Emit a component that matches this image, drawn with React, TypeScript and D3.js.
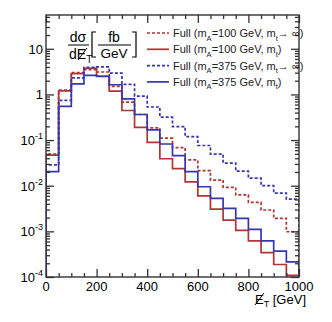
import React, { useEffect, useRef } from "react";
import * as d3 from "d3";

// bin edges of the missing-ET histograms (GeV)
const binEdges = [0, 50, 100, 150, 200, 250, 300, 350, 400, 450, 500, 550, 600, 650, 700, 750, 800, 850, 900, 950, 1000];

// dsigma/dMET [fb/GeV] per bin
const redDashed = [0.049, 1.25, 3.0, 3.5, 3.1, 1.5, 0.68, 0.363, 0.185, 0.11, 0.068, 0.0367, 0.0214, 0.0133, 0.0092, 0.0063, 0.0043, 0.00294, 0.00193, 0.00098];
const redSolid = [0.047, 1.2, 2.85, 3.75, 2.5, 1.18, 0.445, 0.19, 0.089, 0.039, 0.0238, 0.0122, 0.006, 0.00308, 0.00176, 0.00105, 0.00062, 0.000342, 0.000188, 0.000109];
const blueDashed = [0.0285, 0.74, 2.3, 3.9, 4.0, 2.94, 1.66, 0.92, 0.53, 0.317, 0.198, 0.119, 0.076, 0.049, 0.0313, 0.0208, 0.0146, 0.01, 0.0069, 0.0051];
const blueSolid = [0.0204, 0.545, 1.7, 2.62, 2.49, 1.63, 0.8, 0.363, 0.168, 0.082, 0.0457, 0.0204, 0.0095, 0.0053, 0.0032, 0.00193, 0.0011, 0.00062, 0.00037, 0.000214];

const xMajor = [0, 200, 400, 600, 800, 1000];
const xMinor = [50, 100, 150, 250, 300, 350, 450, 500, 550, 650, 700, 750, 850, 900, 950];
const yDecades = [1e-4, 1e-3, 1e-2, 1e-1, 1, 10];
const yLabels = [["10", "-4"], ["10", "-3"], ["10", "-2"], ["10", "-1"], ["1", ""], ["10", ""]];

const RED = "#b03434";
const BLUE = "#3636ae";
const FONT = "'Liberation Sans', Arial, Helvetica, sans-serif";

const series = [
  { values: redDashed, color: RED, dash: "3,2", mA: "100", inf: true },
  { values: redSolid, color: RED, dash: null, mA: "100", inf: false },
  { values: blueDashed, color: BLUE, dash: "3,2", mA: "375", inf: true },
  { values: blueSolid, color: BLUE, dash: null, mA: "375", inf: false },
];

const App = () => {
  const ref = useRef<SVGSVGElement>(null);

  useEffect(() => {
    const W = 332, H = 322;
    const L = 46, R = 299, T = 15, B = 277;
    const svg = d3.select(ref.current).attr("width", W).attr("height", H);
    svg.selectAll("*").remove();

    const x = d3.scaleLinear().domain([0, 1000]).range([L, R]);
    const y = d3.scaleLog().domain([1e-4, 55]).range([B, T]);

    svg.append("defs").append("clipPath").attr("id", "plotclip")
      .append("rect").attr("x", L).attr("y", T).attr("width", R - L).attr("height", B - T);

    // histograms
    const line = d3.line<[number, number]>()
      .x(d => x(d[0]))
      .y(d => y(d[1]))
      .curve(d3.curveStepAfter);

    const hg = svg.append("g").attr("clip-path", "url(#plotclip)");
    series.forEach(s => {
      const pts: [number, number][] = [[0, 1e-4]];
      s.values.forEach((v, i) => pts.push([binEdges[i], v]));
      pts.push([1000, s.values[s.values.length - 1]]);
      pts.push([1000, 1e-4]);
      hg.append("path")
        .attr("d", line(pts))
        .attr("fill", "none")
        .attr("stroke", s.color)
        .attr("stroke-width", 1.7)
        .attr("stroke-dasharray", s.dash);
    });

    // frame
    svg.append("rect")
      .attr("x", L).attr("y", T).attr("width", R - L).attr("height", B - T)
      .attr("fill", "none").attr("stroke", "#333").attr("stroke-width", 1.4);

    const yMinor: number[] = [];
    yDecades.forEach(d => {
      for (let k = 2; k <= 9; k++) if (d * k < 55) yMinor.push(d * k);
    });

    const tickAxis = (axis: any, tr: string, vals: number[], size: number) => {
      const g = svg.append("g").attr("transform", tr)
        .call(axis.tickValues(vals).tickSize(size).tickSizeOuter(0).tickFormat(() => ""));
      g.select(".domain").remove();
      g.selectAll("line").attr("stroke", "#333").attr("stroke-width", 1.3);
    };
    tickAxis(d3.axisBottom(x), `translate(0,${B})`, xMajor, -8);
    tickAxis(d3.axisBottom(x), `translate(0,${B})`, xMinor, -4);
    tickAxis(d3.axisTop(x), `translate(0,${T})`, xMajor, -8);
    tickAxis(d3.axisTop(x), `translate(0,${T})`, xMinor, -4);
    tickAxis(d3.axisLeft(y), `translate(${L},0)`, yDecades, -8);
    tickAxis(d3.axisLeft(y), `translate(${L},0)`, yMinor, -4);
    tickAxis(d3.axisRight(y), `translate(${R},0)`, yDecades, -8);
    tickAxis(d3.axisRight(y), `translate(${R},0)`, yMinor, -4);

    // x tick labels
    svg.append("g").selectAll("text").data(xMajor).enter().append("text")
      .attr("x", d => x(d)).attr("y", B + 14)
      .attr("text-anchor", "middle")
      .attr("font-family", FONT).attr("font-size", 13)
      .text(d => d);

    // y tick labels
    yDecades.forEach((d, i) => {
      const [base, exp] = yLabels[i];
      const t = svg.append("text")
        .attr("x", 43).attr("y", y(d) + 5)
        .attr("text-anchor", "end")
        .attr("font-family", FONT).attr("font-size", 13);
      t.append("tspan").text(base);
      if (exp) t.append("tspan").attr("font-size", 9).attr("dy", -6).text(exp);
    });

    // x axis title: missing E_T [GeV]
    const xt = svg.append("text")
      .attr("x", 306).attr("y", 304)
      .attr("text-anchor", "end")
      .attr("font-family", FONT).attr("font-size", 13);
    xt.append("tspan").text("E");
    xt.append("tspan").attr("font-size", 9).attr("dy", 3).text("T");
    xt.append("tspan").attr("dy", -3).text(" [GeV]");
    svg.append("line").attr("x1", 255).attr("y1", 305).attr("x2", 264).attr("y2", 293)
      .attr("stroke", "#000").attr("stroke-width", 1);

    // y axis title (fraction)
    const yt = svg.append("g").attr("font-family", FONT).attr("fill", "#000");
    yt.append("text").attr("x", 78).attr("y", 42).attr("text-anchor", "middle").attr("font-size", 14).text("dσ");
    yt.append("line").attr("x1", 68).attr("x2", 89).attr("y1", 45).attr("y2", 45).attr("stroke", "#000").attr("stroke-width", 1);
    const den = yt.append("text").attr("x", 69).attr("y", 59).attr("font-size", 14);
    den.append("tspan").text("dE");
    den.append("tspan").attr("font-size", 10).attr("dy", 4).text("T");
    yt.append("line").attr("x1", 78).attr("y1", 60).attr("x2", 87).attr("y2", 48).attr("stroke", "#000").attr("stroke-width", 1);
    yt.append("path").attr("d", "M96,32 L92,32 L92,57 L96,57").attr("fill", "none").attr("stroke", "#000").attr("stroke-width", 1.2);
    yt.append("text").attr("x", 114).attr("y", 42).attr("text-anchor", "middle").attr("font-size", 14).text("fb");
    yt.append("line").attr("x1", 98).attr("x2", 131).attr("y1", 45).attr("y2", 45).attr("stroke", "#000").attr("stroke-width", 1);
    yt.append("text").attr("x", 114).attr("y", 58).attr("text-anchor", "middle").attr("font-size", 13.5).text("GeV");
    yt.append("path").attr("d", "M132,32 L136,32 L136,57 L132,57").attr("fill", "none").attr("stroke", "#000").attr("stroke-width", 1.2);

    // legend
    series.forEach((s, i) => {
      const cy = 33 + i * 16.3;
      svg.append("line")
        .attr("x1", 147).attr("x2", 169).attr("y1", cy).attr("y2", cy)
        .attr("stroke", s.color).attr("stroke-width", 1.7)
        .attr("stroke-dasharray", s.dash);
      const t = svg.append("text")
        .attr("x", 173).attr("y", cy + 4)
        .attr("font-family", FONT).attr("font-size", 11).attr("fill", "#222");
      t.append("tspan").text("Full (m");
      t.append("tspan").attr("font-size", 7.5).attr("dy", 3.5).text("A");
      t.append("tspan").attr("dy", -3.5).text(`=${s.mA} GeV, m`);
      t.append("tspan").attr("font-size", 7.5).attr("dy", 3.5).text("t");
      t.append("tspan").attr("dy", -3.5).text(s.inf ? "→ ∞)" : ")");
    });
  }, []);

  return (
    <svg ref={ref} style={{ position: "absolute", left: 0, top: 0, display: "block", background: "#fff" }}></svg>
  );
};

export default App;
